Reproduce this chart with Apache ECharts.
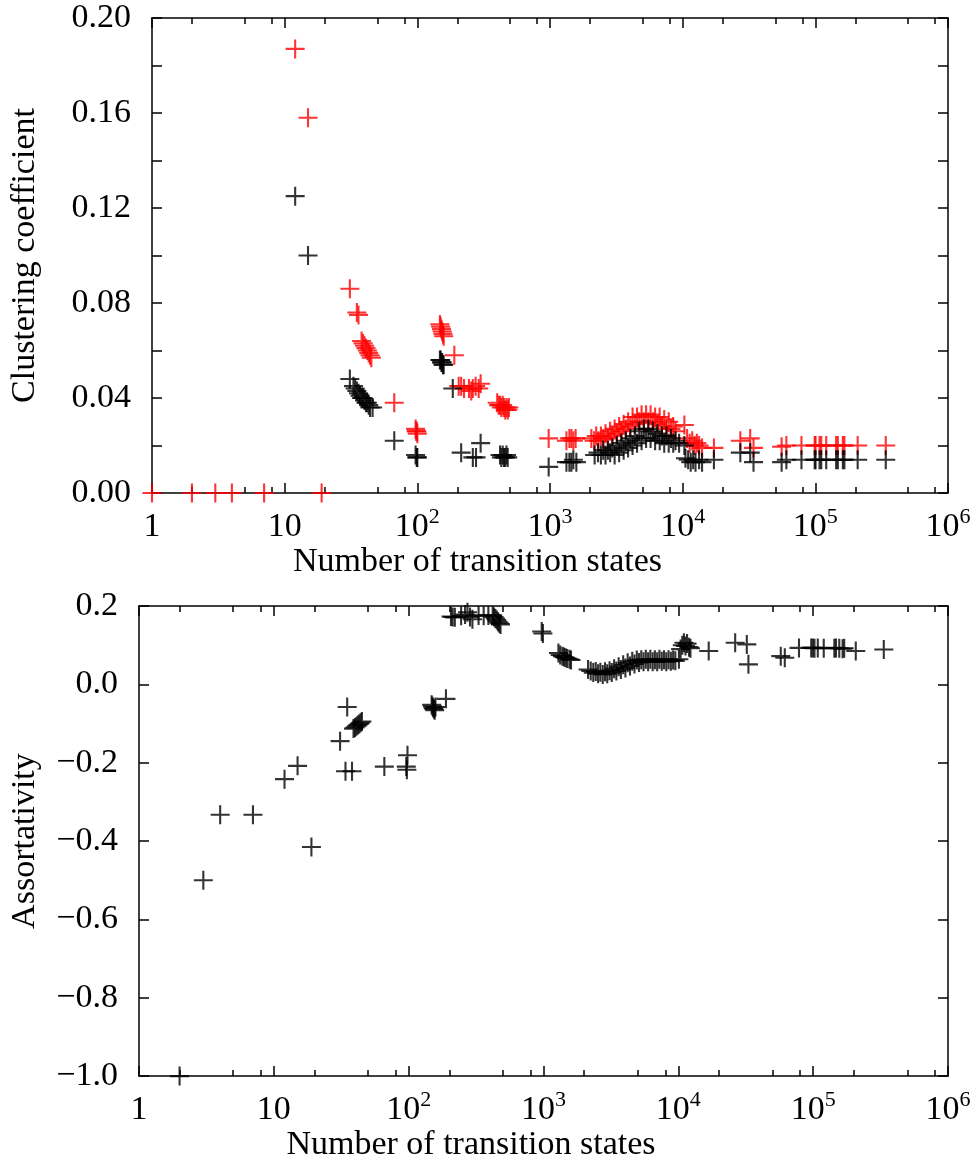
<!DOCTYPE html>
<html>
<head>
<meta charset="utf-8">
<script src="https://cdn.jsdelivr.net/npm/echarts@6/dist/echarts.min.js"></script>
<style>
  html, body { margin: 0; padding: 0; background: #fff; }
  #chart { width: 980px; height: 1163px; }
</style>
</head>
<body>
<div id="chart"></div>
<script>
// number of transition states (x) and clustering coefficient, red set
const redStates = [
  1, 2, 3, 4, 7, 12, 15, 19, 31, 35, 36, 38, 39, 40, 41, 42, 43, 44, 45, 67,
  97, 98, 99, 100, 148, 150, 152, 154, 156, 158, 190, 205, 214, 225, 245, 255,
  262, 275, 290, 300, 400, 410, 420, 430, 440, 450, 460, 470, 480, 490,
  977, 1330, 1400, 1450, 1500, 1560,
  2050, 2150, 2230, 2320, 2420, 2520, 2620, 2730, 2840, 2950, 3070, 3190,
  3320, 3450, 3590, 3730, 3880, 4030, 4190, 4360, 4530, 4710, 4900, 5100,
  5300, 5510, 5730, 5960, 6200, 6450, 6710, 6980, 7260, 7550, 7850, 8160,
  8490, 8830, 10300, 10800, 11300, 11800, 12300, 12800, 13300, 14000,
  17200, 27200, 32300, 34200, 55700, 60500, 78600, 98900, 100400, 107600,
  110800, 120800, 143500, 147800, 161200, 165600, 208500, 339500
];
const redClustering = [
  0, 0, 0, 0, 0, 0.187, 0.158, 0, 0.086, 0.076, 0.075, 0.064, 0.063, 0.062, 0.061, 0.060, 0.059, 0.058, 0.057, 0.038,
  0.027, 0.026, 0.026, 0.025, 0.071, 0.070, 0.069, 0.068, 0.067, 0.066, 0.058, 0.045, 0.045, 0.044, 0.044, 0.043,
  0.044, 0.045, 0.044, 0.046, 0.038, 0.037, 0.037, 0.036, 0.037, 0.036, 0.035, 0.036, 0.035, 0.036,
  0.023, 0.022, 0.023, 0.023, 0.022, 0.023,
  0.023, 0.022, 0.024, 0.022, 0.024, 0.023, 0.025, 0.023, 0.026, 0.024, 0.027, 0.025,
  0.028, 0.026, 0.029, 0.027, 0.030, 0.028, 0.032, 0.029, 0.032, 0.030, 0.033, 0.030,
  0.033, 0.030, 0.033, 0.030, 0.032, 0.029, 0.032, 0.028, 0.031, 0.027, 0.030, 0.027,
  0.028, 0.026, 0.0286, 0.023, 0.021, 0.022, 0.020, 0.021, 0.020, 0.019,
  0.019, 0.022, 0.023, 0.019, 0.0195, 0.020, 0.020, 0.020, 0.020, 0.020,
  0.020, 0.020, 0.020, 0.020, 0.020, 0.020, 0.020, 0.020
];

// black set
const blackStates = [
  12, 15, 31, 33, 34, 35, 36, 37, 38, 39, 40, 41, 42, 43, 44, 46, 67,
  97, 99, 100, 148, 150, 152, 154, 156, 158, 185, 214, 262, 277, 300,
  420, 430, 440, 450, 460, 470, 480, 977, 1330, 1400, 1450, 1500, 1580,
  2170, 2300, 2420, 2520, 2620, 2730, 2840, 2950, 3070, 3190, 3320, 3450,
  3590, 3730, 3880, 4030, 4190, 4360, 4530, 4710, 4900, 5100, 5300, 5510,
  5730, 5960, 6200, 6450, 6710, 6980, 7260, 7550, 7850, 8160, 8490, 8830,
  9400, 10300, 10500, 11000, 11500, 12000, 12500, 13300, 14000,
  17200, 27200, 32300, 34200, 55700, 60500, 78600, 98900, 100400, 107600,
  110800, 120800, 143500, 147800, 161200, 165600, 208500, 339500
];
const blackClustering = [
  0.125, 0.100, 0.048, 0.045, 0.044, 0.043, 0.042, 0.041, 0.040, 0.040, 0.039, 0.038, 0.038, 0.037, 0.036, 0.036, 0.022,
  0.016, 0.015, 0.015, 0.056, 0.056, 0.055, 0.055, 0.054, 0.054, 0.044, 0.017, 0.015, 0.015, 0.021,
  0.016, 0.015, 0.016, 0.015, 0.015, 0.016, 0.015, 0.011, 0.013, 0.013, 0.013, 0.014, 0.013,
  0.016, 0.017, 0.016, 0.018, 0.016, 0.018, 0.017, 0.019, 0.016, 0.020, 0.017, 0.021,
  0.018, 0.022, 0.019, 0.023, 0.020, 0.024, 0.021, 0.026, 0.022, 0.027, 0.023, 0.027,
  0.023, 0.026, 0.022, 0.025, 0.022, 0.024, 0.021, 0.024, 0.021, 0.023, 0.021, 0.022,
  0.021, 0.020, 0.0146, 0.014, 0.013, 0.014, 0.013, 0.014, 0.013,
  0.014, 0.017, 0.017, 0.013, 0.013, 0.014, 0.014, 0.014, 0.014, 0.014,
  0.014, 0.014, 0.014, 0.014, 0.014, 0.014, 0.014, 0.014
];

// assortativity
const assortStates = [
  2, 3, 4, 7, 12, 15, 19, 31, 34, 35, 38, 39, 40, 41, 42, 43, 44, 45,
  66, 96, 97, 98, 148, 150, 152, 154, 156, 158, 189,
  206, 212, 220, 245, 262, 273, 285, 297, 330, 360, 390,
  420, 430, 440, 450, 460, 470, 480, 970, 990,
  1290, 1330, 1380, 1420, 1460, 1500, 1560, 1600,
  2140, 2240, 2340, 2440, 2540, 2640, 2750, 2860, 2970, 3090, 3210, 3340,
  3470, 3610, 3750, 3900, 4050, 4210, 4380, 4550, 4730, 4920, 5110, 5310,
  5520, 5740, 5970, 6200, 6450, 6700, 6970, 7240, 7530, 7830, 8140, 8460,
  8800, 9150, 9500, 10100, 10400, 10700, 11000, 11300, 11600, 12000, 12300,
  16800, 26400, 32200, 33100, 57500, 61600, 78500, 96700, 99500, 102300,
  108200, 119800, 143500, 147700, 156200, 165300, 169900, 207000, 334000
];
const assortativity = [
  -1.0, -0.5, -0.333, -0.333, -0.242, -0.208, -0.415, -0.145, -0.222, -0.058, -0.222,
  -0.113, -0.110, -0.107, -0.104, -0.101, -0.098, -0.095,
  -0.210, -0.210, -0.218, -0.181, -0.052, -0.056, -0.060, -0.063, -0.066, -0.058, -0.037,
  0.173, 0.172, 0.171, 0.175, 0.178, 0.184, 0.172, 0.166, 0.176, 0.175, 0.176,
  0.176, 0.172, 0.168, 0.164, 0.160, 0.156, 0.153, 0.135, 0.130,
  0.080, 0.075, 0.072, 0.070, 0.068, 0.066, 0.064, 0.062,
  0.038, 0.034, 0.030, 0.033, 0.027, 0.031, 0.025, 0.032, 0.027, 0.035, 0.030, 0.040,
  0.034, 0.045, 0.038, 0.050, 0.042, 0.055, 0.047, 0.059, 0.052, 0.062, 0.056, 0.063,
  0.058, 0.064, 0.058, 0.064, 0.058, 0.063, 0.058, 0.064, 0.059, 0.063, 0.058, 0.063,
  0.059, 0.062, 0.060, 0.064, 0.090, 0.100, 0.106, 0.098, 0.104, 0.095, 0.092,
  0.085, 0.106, 0.102, 0.051, 0.072, 0.068, 0.093, 0.093, 0.093, 0.092,
  0.093, 0.092, 0.092, 0.093, 0.092, 0.091, 0.092, 0.085, 0.089
];

const decades = [1, 10, 100, 1e3, 1e4, 1e5, 1e6];
const minorTicks = [2, 5, 8, 20, 50, 80, 200, 500, 800, 2e3, 5e3, 8e3, 2e4, 5e4, 8e4, 2e5, 5e5, 8e5];

const FONT = 'Liberation Serif';
const PLUS = 'path://M-1.1,-10L1.1,-10L1.1,-1.1L10,-1.1L10,1.1L1.1,1.1L1.1,10L-1.1,10L-1.1,1.1L-10,1.1L-10,-1.1L-1.1,-1.1Z';

const zip = (xs, ys) => xs.map((x, i) => [x, ys[i]]);

const line = { color: '#000', width: 1.5 };
const labelRich = {
  b: { fontFamily: FONT, fontSize: 34, lineHeight: 38, color: '#000', verticalAlign: 'bottom' },
  s: { fontFamily: FONT, fontSize: 22, lineHeight: 22, color: '#000', verticalAlign: 'top' }
};

function decadeLabel(v) {
  const k = Math.round(Math.log10(v));
  if (k === 0) return '{b|1}';
  if (k === 1) return '{b|10}';
  return '{b|10}{s|' + k + '}';
}

function xAxesFor(gridIndex, nameGap) {
  const base = { type: 'log', logBase: 10, min: 1, max: 1e6, gridIndex, splitLine: { show: false } };
  return [
    {
      ...base, position: 'bottom',
      name: 'Number of transition states', nameLocation: 'middle', nameGap,
      // the title sits left of the plot centre in the original
      nameTextStyle: { fontFamily: FONT, fontSize: 34, color: '#000', padding: [0, 145, 0, 0] },
      axisLine: { show: true, onZero: false, lineStyle: line },
      axisTick: { inside: true, length: 10, customValues: decades, lineStyle: line },
      axisLabel: { customValues: decades, formatter: decadeLabel, rich: labelRich, margin: 13 }
    },
    {
      ...base, position: 'bottom', axisLine: { show: false, onZero: false },
      axisTick: { inside: true, length: 6, customValues: minorTicks, lineStyle: line },
      axisLabel: { show: false }
    },
    {
      ...base, position: 'top', axisLine: { show: true, onZero: false, lineStyle: line },
      axisTick: { inside: true, length: 10, customValues: decades, lineStyle: line },
      axisLabel: { show: false }
    },
    {
      ...base, position: 'top', axisLine: { show: false, onZero: false },
      axisTick: { inside: true, length: 6, customValues: minorTicks, lineStyle: line },
      axisLabel: { show: false }
    }
  ];
}

const ccLabel = v => (Math.round(v * 100) % 4 === 0 ? v.toFixed(2) : '');
const asLabel = v => (Math.abs(v) < 1e-9 ? '0.0' : v.toFixed(1).replace('-', '\u2212'));

function yAxesFor(gridIndex, min, max, interval, name, nameGap, formatter) {
  const base = {
    type: 'value', gridIndex, min, max, interval, splitLine: { show: false },
    axisLine: { show: true, onZero: false, lineStyle: line },
    axisTick: { inside: true, length: 10, lineStyle: line }
  };
  return [
    {
      ...base, position: 'left', name, nameLocation: 'middle', nameGap,
      nameTextStyle: { fontFamily: FONT, fontSize: 34, color: '#000' },
      axisLabel: { formatter, fontFamily: FONT, fontSize: 34, color: '#000', margin: 21 }
    },
    { ...base, position: 'right', axisLabel: { show: false } }
  ];
}

function plusSeries(xIdx, yIdx, data, color) {
  return {
    type: 'scatter', xAxisIndex: xIdx, yAxisIndex: yIdx, data,
    symbol: PLUS, symbolSize: 19, itemStyle: { color },
    clip: false, silent: true
  };
}

const chart = echarts.init(document.getElementById('chart'), null, { renderer: 'canvas' });

chart.setOption({
  animation: false,
  backgroundColor: '#fff',
  grid: [
    { left: 145, right: 32, top: 18, height: 475 },
    { left: 132, right: 32, top: 606, height: 475 }
  ],
  xAxis: [...xAxesFor(0, 46), ...xAxesFor(1, 50)],
  yAxis: [
    ...yAxesFor(0, 0, 0.2, 0.02, 'Clustering coefficient', 110, ccLabel),
    ...yAxesFor(1, -1.0, 0.2, 0.2, 'Assortativity', 97, asLabel)
  ],
  series: [
    plusSeries(0, 0, zip(redStates, redClustering), '#ff0000'),
    plusSeries(0, 0, zip(blackStates, blackClustering), '#000000'),
    plusSeries(4, 2, zip(assortStates, assortativity), '#000000')
  ]
});
</script>
</body>
</html>
